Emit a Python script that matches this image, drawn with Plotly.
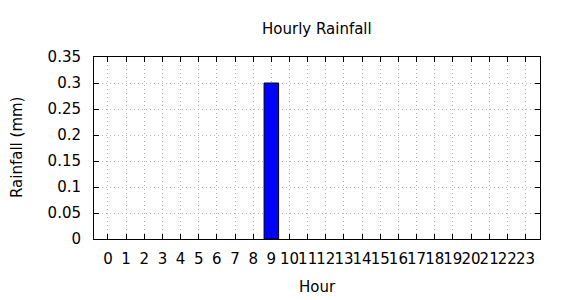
import plotly.graph_objects as go

hours = list(range(24))
rainfall = [0, 0, 0, 0, 0, 0, 0, 0, 0, 0.3, 0, 0, 0, 0, 0, 0, 0, 0, 0, 0, 0, 0, 0, 0]
y_ticks = [0, 0.05, 0.1, 0.15, 0.2, 0.25, 0.3, 0.35]
y_tick_labels = ["0", "0.05", "0.1", "0.15", "0.2", "0.25", "0.3", "0.35"]

font = dict(family="DejaVu Sans", size=15, color="#000000")

fig = go.Figure()
fig.add_trace(go.Bar(
    x=hours, y=rainfall, width=0.8,
    marker=dict(color="#0000ff",
                line=dict(color="#000000", width=[1 if v > 0 else 0 for v in rainfall])),
))

fig.update_layout(
    width=570, height=300,
    margin=dict(l=94, r=30, t=57, b=61),
    paper_bgcolor="white", plot_bgcolor="white",
    font=font, showlegend=False,
    xaxis=dict(
        range=[-0.77, 23.8], tickmode="array", tickvals=hours,
        ticktext=[str(h) for h in hours],
        ticks="inside", ticklen=5, tickcolor="black", tickwidth=1,
        showline=True, linecolor="black", linewidth=1, mirror="ticks",
        showgrid=True, gridcolor="#b4b4b4", griddash="1px,3px", gridwidth=1,
        zeroline=False, ticklabelstandoff=6, tickangle=0,
    ),
    yaxis=dict(
        range=[0, 0.35], tickmode="array", tickvals=y_ticks, ticktext=y_tick_labels,
        ticks="inside", ticklen=5, tickcolor="black", tickwidth=1,
        showline=True, linecolor="black", linewidth=1, mirror="ticks",
        showgrid=True, gridcolor="#b4b4b4", griddash="1px,3px", gridwidth=1,
        zeroline=False, ticklabelstandoff=9,
    ),
)

pw, ph = 570 - 94 - 30, 300 - 57 - 61
def ann(text, px, py, angle=0):
    return dict(text=text, x=(px - 94) / pw, y=1 - (py - 57) / ph,
                xref="paper", yref="paper", xanchor="center", yanchor="middle",
                showarrow=False, font=font, textangle=angle)

fig.update_layout(annotations=[
    ann("Hourly Rainfall", 317, 28.5),
    ann("Hour", 317, 287),
    ann("Rainfall (mm)", 17, 148, -90),
])

fig.write_html("out.html")
